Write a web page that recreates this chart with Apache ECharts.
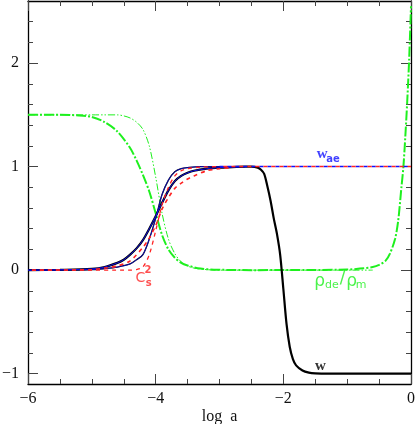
<!DOCTYPE html>
<html>
<head>
<meta charset="utf-8">
<script src="https://cdn.jsdelivr.net/npm/echarts@6/dist/echarts.min.js"></script>
<style>
  html, body { margin: 0; padding: 0; background: #fff; }
  #chart { width: 415px; height: 424px; }
</style>
</head>
<body>
<div id="chart"></div>
<script>
// tick values
var xMajor = [-6, -4, -2, 0];
var yMajor = [-1, 0, 1, 2];
var yMinor = [-1, -0.8, -0.6, -0.4, -0.2, 0, 0.2, 0.4, 0.6, 0.8, 1, 1.2, 1.4, 1.6, 1.8, 2, 2.2, 2.4];

// rho_de / rho_m, thick dash-dot
var rhoThickX = [-6, -5.5, -5.2, -5.0, -4.8, -4.6, -4.4, -4.3, -4.2, -4.1, -4.0, -3.9, -3.8, -3.7, -3.6, -3.5, -3.3, -3.0, -2.5,
  -1.0, -0.8, -0.6, -0.5, -0.4, -0.33, -0.25, -0.2, -0.15, -0.12, -0.09, -0.06, -0.03, 0];
var rhoThickY = [1.5, 1.5, 1.495, 1.48, 1.43, 1.34, 1.18, 1.06, 0.92, 0.76, 0.55, 0.34, 0.2, 0.12, 0.07, 0.045, 0.015, 0.004, 0,
  0.005, 0.015, 0.03, 0.05, 0.09, 0.16, 0.3, 0.48, 0.8, 0.99, 1.28, 1.62, 2.02, 2.55];

// rho_de / rho_m, thin dash-dot-dot
var rhoThinX = [-6, -5, -4.8, -4.6, -4.5, -4.4, -4.3, -4.2, -4.1, -4.0, -3.9, -3.8, -3.7, -3.6, -3.5, -3.4, -3.2, -3.0, -2.5, -0.6];
var rhoThinY = [1.5, 1.5, 1.5, 1.5, 1.49, 1.47, 1.43, 1.36, 1.2, 0.9, 0.55, 0.3, 0.16, 0.08, 0.04, 0.02, 0.005, 0, 0, 0];

// w, thick black
var wX = [-6, -5.5, -5.0, -4.8, -4.6, -4.5, -4.4, -4.3, -4.2, -4.1, -4.0, -3.9, -3.8, -3.7, -3.6, -3.5, -3.4, -3.2, -3.0, -2.8, -2.6,
  -2.5, -2.4, -2.35, -2.3, -2.25, -2.2, -2.15, -2.1, -2.05, -2.0, -1.95, -1.9, -1.85, -1.8, -1.7, -1.6, -1.5, -1.3, 0];
var wY = [0, 0.003, 0.012, 0.03, 0.07, 0.1, 0.15, 0.21, 0.29, 0.4, 0.52, 0.65, 0.77, 0.86, 0.91, 0.94, 0.96, 0.98, 0.99, 0.995, 1.0,
  1.0, 0.99, 0.97, 0.93, 0.81, 0.67, 0.5, 0.35, 0.15, -0.18, -0.52, -0.74, -0.86, -0.92, -0.97, -0.99, -0.997, -1, -1];

// steep thin solid
var steepX = [-6, -5, -4.8, -4.6, -4.4, -4.3, -4.2, -4.1, -4.0, -3.9, -3.8, -3.7, -3.6, -3.5, -3.3, -3.0, -2.6];
var steepY = [0, 0.005, 0.015, 0.03, 0.06, 0.1, 0.15, 0.3, 0.5, 0.73, 0.87, 0.95, 0.98, 0.99, 1.0, 1.0, 1.0];

// c_s^2, shallow dashed
var csAX = [-6, -5, -4.8, -4.6, -4.4, -4.2, -4.1, -4.0, -3.9, -3.8, -3.7, -3.6, -3.5, -3.4, -3.2, -3.0, -2.8];
var csAY = [0, 0.005, 0.02, 0.04, 0.09, 0.22, 0.31, 0.43, 0.59, 0.7, 0.79, 0.84, 0.88, 0.91, 0.96, 0.98, 0.99];

// c_s^2, steep dashed
var csBX = [-6, -4.4, -4.3, -4.2, -4.1, -4.0, -3.9, -3.8, -3.7, -3.6, -3.5, -3.3, -3.0];
var csBY = [0, 0, 0.005, 0.03, 0.15, 0.38, 0.63, 0.8, 0.91, 0.96, 0.98, 0.995, 1];

// late plateau shared by w_ae and c_s^2
var lateX = [-3.0, 0];
var lateY = [1, 1];

function pairs(xs, ys) {
  return xs.map(function (x, i) { return [x, ys[i]]; });
}
function minus(v) {
  return String(v).replace('-', '\u2212');
}

var serif = 'Liberation Serif';
var sans = 'DejaVu Sans';
var green = '#1ef01e';
var red = '#ff2222';
var blue = '#1010ff';

// text notes: [text, x, y, size, color, font, weight]
var notes = [
  ['w', -1.39, 1.125, 15, blue, serif, 'bold'],
  ['ae', -1.22, 1.07, 10, blue, sans, 'bold'],
  ['C', -4.24, -0.077, 14, red, sans, 'normal'],
  ['2', -4.12, -0.005, 10, red, sans, 'bold'],
  ['s', -4.11, -0.125, 10, red, sans, 'bold'],
  ['\u03c1', -1.43, -0.106, 17, green, sans, 'normal'],
  ['de', -1.24, -0.144, 11, green, sans, 'normal'],
  ['/', -1.07, -0.077, 17, green, sans, 'normal'],
  ['\u03c1', -0.93, -0.106, 17, green, sans, 'normal'],
  ['m', -0.78, -0.144, 11, green, sans, 'normal'],
  ['w', -1.42, -0.923, 15, '#000', serif, 'bold']
];

function lineSeries(data, color, width, type, z, offset) {
  return {
    type: 'line',
    data: data,
    smooth: 0.3,
    showSymbol: false,
    symbol: 'none',
    z: z,
    lineStyle: { color: color, width: width, type: type, dashOffset: offset || 0 },
    clip: true
  };
}

var yBase = { type: 'value', min: -1.1, max: 2.6, splitLine: { show: false } };
var tickColor = '#444';

var option = {
  animation: false,
  backgroundColor: '#fff',
  grid: { left: 28, right: 4, top: 1, bottom: 40, outerBoundsMode: 'none', containLabel: false },
  xAxis: [
    {
      type: 'value', min: -6, max: 0, interval: 2, position: 'bottom',
      axisLine: { onZero: false, lineStyle: { color: '#000', width: 1.3 } },
      axisTick: { inside: true, length: 10, lineStyle: { color: tickColor } },
      minorTick: { show: true, splitNumber: 4, length: 5, lineStyle: { color: tickColor } },
      splitLine: { show: false },
      axisLabel: { formatter: minus, fontFamily: serif, fontSize: 16, color: '#111', margin: 7 },
      name: 'log  a', nameLocation: 'middle', nameGap: 33, nameMoveOverlap: false,
      nameTextStyle: { fontFamily: serif, fontSize: 16, color: '#111', verticalAlign: 'middle' }
    },
    {
      type: 'value', min: -6, max: 0, interval: 2, position: 'top',
      axisLine: { onZero: false, lineStyle: { color: '#000', width: 1.3 } },
      axisTick: { inside: true, length: 10, lineStyle: { color: tickColor } },
      minorTick: { show: true, splitNumber: 4, length: 5, lineStyle: { color: tickColor } },
      splitLine: { show: false },
      axisLabel: { show: false }
    }
  ],
  yAxis: [
    Object.assign({}, yBase, {
      position: 'left',
      axisLine: { show: true, onZero: false, lineStyle: { color: '#000', width: 1.3 } },
      axisTick: { show: true, inside: true, length: 10, customValues: yMajor, lineStyle: { color: tickColor } },
      axisLabel: { customValues: yMajor, formatter: minus, fontFamily: serif, fontSize: 16, color: '#111', margin: 9 }
    }),
    Object.assign({}, yBase, {
      position: 'left',
      axisLine: { show: false, onZero: false },
      axisTick: { show: true, inside: true, length: 5, customValues: yMinor, lineStyle: { color: tickColor } },
      axisLabel: { show: false }
    }),
    Object.assign({}, yBase, {
      position: 'right',
      axisLine: { show: true, onZero: false, lineStyle: { color: '#000', width: 1.3 } },
      axisTick: { show: true, inside: true, length: 10, customValues: yMajor, lineStyle: { color: tickColor } },
      axisLabel: { show: false }
    }),
    Object.assign({}, yBase, {
      position: 'right',
      axisLine: { show: false, onZero: false },
      axisTick: { show: true, inside: true, length: 5, customValues: yMinor, lineStyle: { color: tickColor } },
      axisLabel: { show: false }
    })
  ],
  series: [
    lineSeries(pairs(rhoThinX, rhoThinY), green, 1, [7, 2, 1.5, 2, 1.5, 2], 2),
    lineSeries(pairs(rhoThickX, rhoThickY), green, 2, [10, 2, 2, 2], 3),
    lineSeries(pairs(wX, wY), '#000', 2.2, 'solid', 4),
    lineSeries(pairs(steepX, steepY), '#000', 1.3, 'solid', 4),
    lineSeries(pairs(wX.slice(0, 21), wY.slice(0, 21)), blue, 0.9, 'solid', 6),
    lineSeries(pairs(steepX, steepY), blue, 0.7, 'solid', 6),
    lineSeries(pairs(lateX, lateY), blue, 1.5, [4, 4], 7, 0),
    lineSeries(pairs(csAX, csAY), red, 1.6, [4, 4], 8, 4),
    lineSeries(pairs(csBX, csBY), red, 1.3, [4, 4], 8, 4),
    lineSeries(pairs(lateX, lateY), red, 1.5, [4, 4], 8, 4),
    {
      type: 'scatter',
      symbolSize: 0,
      z: 10,
      silent: true,
      data: notes.map(function (n) {
        return {
          value: [n[1], n[2]],
          label: {
            show: true, position: 'inside', formatter: n[0],
            fontSize: n[3], color: n[4], fontFamily: n[5], fontWeight: n[6]
          }
        };
      })
    }
  ]
};

var chart = echarts.init(document.getElementById('chart'), null, { renderer: 'canvas' });
chart.setOption(option);
</script>
</body>
</html>
